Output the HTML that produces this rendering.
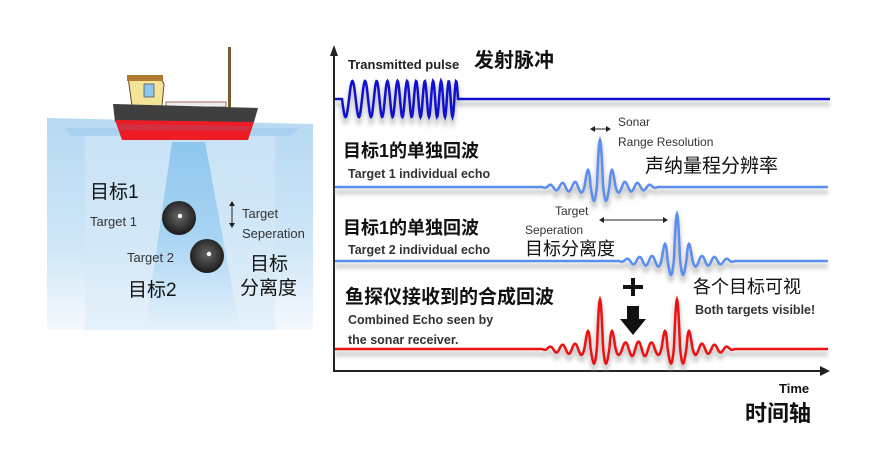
<!DOCTYPE html>
<html><head><meta charset="utf-8">
<style>
html,body{margin:0;padding:0;background:#fff;}
svg{display:block;}
text{font-family:"Liberation Sans","Noto Sans CJK SC",sans-serif;}
</style></head><body>
<svg id="s" width="870" height="463" viewBox="0 0 870 463" xmlns="http://www.w3.org/2000/svg">
<defs>
<linearGradient id="water" x1="0" y1="0" x2="0" y2="1">
<stop offset="0" stop-color="#b7d9f2"/><stop offset="0.6" stop-color="#cfe6f7"/><stop offset="1" stop-color="#f4f9fd"/>
</linearGradient>
<linearGradient id="beam" x1="0" y1="0" x2="0" y2="1">
<stop offset="0" stop-color="#8ec6ee"/><stop offset="0.5" stop-color="#a8d4f3"/><stop offset="1" stop-color="#e6f2fb"/>
</linearGradient>
<radialGradient id="ball" cx="0.5" cy="0.45" r="0.55">
<stop offset="0" stop-color="#666"/><stop offset="1" stop-color="#1a1a1a"/>
</radialGradient>
<filter id="sh" x="-5%" y="-50%" width="110%" height="200%"><feGaussianBlur stdDeviation="2"/></filter>
</defs>
<!-- water -->
<path d="M47 118 L313 124 L313 330 L47 330 Z" fill="url(#water)"/>
<path d="M85 135 L275 135 L275 330 L85 330 Z" fill="#d7eaf8" opacity="0.5"/>
<path d="M65 128 L300 128 L290 136 L70 136Z" fill="#9ccbee" opacity="0.6"/>
<path d="M172 142 L205 142 L240 330 L145 330 Z" fill="url(#beam)"/>
<!-- ship -->
<rect x="228" y="47" width="3" height="62" fill="#7a5a30"/>
<path d="M128 77 L160 77 L164 84 L162 106 L132 106 Z" fill="#f3e49a" stroke="#6b4a20" stroke-width="1"/>
<rect x="127" y="75" width="36" height="6" fill="#b07a30"/>
<rect x="144" y="84" width="10" height="13" fill="#8ec6ee" stroke="#555" stroke-width="0.8"/>
<rect x="166" y="102" width="60" height="5" fill="#eee" stroke="#8a5030" stroke-width="0.8"/>
<path d="M113 104 L258 108 L254 122 L115 122 Z" fill="#3f3f3f"/>
<path d="M115 120 L254 122 L248 140 L122 140 Z" fill="#ee1c24"/>
<path d="M118 124 L250 126 L248 131 L120 130Z" fill="#c0405a" opacity="0.6"/>
<!-- spheres -->
<circle cx="179" cy="218" r="17" fill="url(#ball)"/><circle cx="180" cy="216" r="2.2" fill="#fff"/>
<circle cx="207" cy="256" r="17" fill="url(#ball)"/><circle cx="209" cy="254" r="2.2" fill="#fff"/>
<text x="90" y="198" font-size="19" fill="#111">目标1</text>
<text x="90" y="226" font-size="13" fill="#333">Target 1</text>
<text x="127" y="262" font-size="13" fill="#333">Target 2</text>
<text x="128" y="296" font-size="19" fill="#111">目标2</text>
<path d="M232 203 L232 226" stroke="#222" stroke-width="1"/>
<path d="M229 206 L232 201 L235 206Z M229 223 L232 228 L235 223Z" fill="#222"/>
<text x="242" y="218" font-size="13" fill="#333">Target</text>
<text x="242" y="238" font-size="13" fill="#333">Seperation</text>
<text x="250" y="270" font-size="19" fill="#111">目标</text>
<text x="240" y="294" font-size="19" fill="#111">分离度</text>
<!-- axes -->
<path d="M334 372 L334 52 M334 371 L822 371" stroke="#222" stroke-width="2" fill="none"/>
<path d="M330 56 L334 45 L338 56Z" fill="#222"/>
<path d="M820 366 L830 371 L820 376Z" fill="#222"/>
<g id="waves"></g>
<!-- labels -->
<text x="348" y="69" font-size="13" font-weight="bold" fill="#222">Transmitted pulse</text>
<text x="474" y="67" font-size="20" font-weight="bold" fill="#111">发射脉冲</text>
<text x="343" y="157" font-size="18" font-weight="bold" fill="#111">目标1的单独回波</text>
<text x="348" y="178" font-size="12.5" font-weight="bold" fill="#333">Target 1 individual echo</text>
<text x="343" y="234" font-size="18" font-weight="bold" fill="#111">目标1的单独回波</text>
<text x="348" y="254" font-size="12.5" font-weight="bold" fill="#333">Target 2 individual echo</text>
<text x="618" y="126" font-size="12" fill="#333">Sonar</text>
<text x="618" y="146" font-size="12" fill="#333">Range Resolution</text>
<path d="M592 129 L609 129" stroke="#222" stroke-width="1"/>
<path d="M595 126 L590 129 L595 132Z M606 126 L611 129 L606 132Z" fill="#222"/>
<text x="645" y="172" font-size="19" fill="#111">声纳量程分辨率</text>
<text x="555" y="215" font-size="12" fill="#333">Target</text>
<text x="525" y="234" font-size="12" fill="#333">Seperation</text>
<path d="M601 220 L666 220" stroke="#222" stroke-width="1"/>
<path d="M604 217 L599 220 L604 223Z M663 217 L668 220 L663 223Z" fill="#222"/>
<text x="525" y="255" font-size="18" fill="#111">目标分离度</text>
<text x="345" y="303" font-size="19" font-weight="bold" fill="#111">鱼探仪接收到的合成回波</text>
<text x="348" y="324" font-size="12.5" font-weight="bold" fill="#333">Combined Echo seen by</text>
<text x="348" y="344" font-size="12.5" font-weight="bold" fill="#333">the sonar receiver.</text>
<path d="M623 287 L643 287 M633 278 L633 296" stroke="#111" stroke-width="4"/>
<path d="M627 306 L639 306 L639 319 L646 319 L633 335 L620 319 L627 319Z" fill="#111"/>
<text x="693" y="293" font-size="18" fill="#111">各个目标可视</text>
<text x="695" y="314" font-size="12.5" font-weight="bold" fill="#333">Both targets visible!</text>
<text x="779" y="393" font-size="13" font-weight="bold" fill="#111">Time</text>
<text x="745" y="421" font-size="22" font-weight="bold" fill="#111">时间轴</text>
</svg>
<script>
(function(){
var g=document.getElementById('waves'),ns='http://www.w3.org/2000/svg';
function add(d,col,w,sh){
 if(sh){var s=document.createElementNS(ns,'path');s.setAttribute('d',d);s.setAttribute('stroke','#999');s.setAttribute('stroke-width',w+2);s.setAttribute('fill','none');s.setAttribute('opacity','0.5');s.setAttribute('filter','url(#sh)');s.setAttribute('transform','translate(0,5)');g.appendChild(s);}
 var p=document.createElementNS(ns,'path');p.setAttribute('d',d);p.setAttribute('stroke',col);p.setAttribute('stroke-width',w);p.setAttribute('fill','none');g.appendChild(p);}
function echo(x,c){var d=x-c;if(Math.abs(d)>58)return 0;var t=1-Math.pow(Math.abs(d)/58,4);
 var cs=Math.cos(2*Math.PI*d/12.5);var ga=Math.exp(-Math.pow(d/11,2));
 var A=cs>0?(42*ga+5*t):(12*ga+5*t);return cs*A;}
var d='M335 99';for(var x=335;x<=830;x+=0.5){var y=99;if(x>=342&&x<=458){var t=(x-342)/116;y=99+18*Math.sin(2*Math.PI*(8*t+4*t*t));}d+=' L'+x+' '+y.toFixed(2);}
add(d,'#1010d0',2.5,true);
d='M335 187';for(x=335;x<=828;x+=0.5){d+=' L'+x+' '+(187-echo(x,600)).toFixed(2);}add(d,'#5b8ef0',2.5,true);
d='M335 261';for(x=335;x<=828;x+=0.5){d+=' L'+x+' '+(261-echo(x,677)).toFixed(2);}add(d,'#5b8ef0',2.5,true);
d='M335 349';for(x=335;x<=828;x+=0.5){d+=' L'+x+' '+(349-1.05*(echo(x,600)+echo(x,677))).toFixed(2);}add(d,'#ee1111',2.5,true);
})();
</script>
</body></html>
